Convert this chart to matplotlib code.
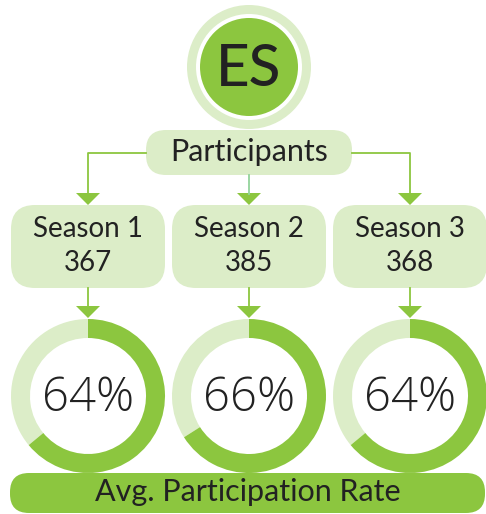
import matplotlib
matplotlib.use("Agg")
import matplotlib.pyplot as plt
from matplotlib.patches import FancyBboxPatch, Wedge, Circle, Polygon

# data
seasons = ["Season 1", "Season 2", "Season 3"]
participants = [367, 385, 368]
avg_rate = [64, 66, 64]
badge = "ES"

DARK = "#8cc63f"
LIGHT = "#dcedc8"
TXT = "#222222"
FONT = ["Lato", "DejaVu Sans"]

W, H = 486, 514
fig = plt.figure(figsize=(W / 100, H / 100), dpi=100)
ax = fig.add_axes([0, 0, 1, 1])
ax.set_xlim(0, W)
ax.set_ylim(0, H)
ax.axis("off")


def Y(v):
    # image rows -> y-up axes
    return H - v


def rbox(x0, y0, x1, y1, r, color):
    p = FancyBboxPatch((x0 + r, Y(y1) + r), x1 - x0 - 2 * r, y1 - y0 - 2 * r,
                       boxstyle="round,pad=%d" % r, fc=color, ec="none")
    ax.add_patch(p)


def arrow(x, y_top):
    ax.add_patch(Polygon([(x - 12, Y(y_top)), (x + 12, Y(y_top)), (x, Y(y_top + 12))],
                         closed=True, fc=DARK, ec="none"))


# badge
cx, cy = 249, 67
ax.add_patch(Circle((cx, Y(cy)), 62, fc=LIGHT, ec="none"))
ax.add_patch(Circle((cx, Y(cy)), 53, fc="white", ec="none"))
ax.add_patch(Circle((cx, Y(cy)), 49, fc=DARK, ec="none"))
ax.text(cx, Y(cy + 2), badge, ha="center", va="center", fontsize=42,
        fontweight="medium", color=TXT, family=FONT)

# participants box
rbox(146, 130, 352, 175, 20, LIGHT)
ax.text(249, Y(152), "Participants", ha="center", va="center", fontsize=22,
        color=TXT, family=FONT)

centers = [88, 249, 410]

# connectors
ax.plot([146, centers[0], centers[0]], [Y(153), Y(153), Y(194)], color=DARK, lw=1.3)
ax.plot([352, centers[2], centers[2]], [Y(153), Y(153), Y(194)], color=DARK, lw=1.3)
ax.plot([centers[1], centers[1]], [Y(175), Y(194)], color="#93d39b", lw=1.3)

for i, (s, n, p) in enumerate(zip(seasons, participants, avg_rate)):
    x = centers[i]
    arrow(x, 193)
    rbox(x - 77, 205, x + 77, 288, 24, LIGHT)
    ax.text(x, Y(229), s, ha="center", va="center", fontsize=20, color=TXT, family=FONT)
    ax.text(x, Y(263), str(n), ha="center", va="center", fontsize=20, color=TXT, family=FONT)

    ax.plot([x, x], [Y(288), Y(307)], color=DARK, lw=1.3)
    arrow(x, 306)

    dy = 396
    ang = 360 * p / 100
    ax.add_patch(Wedge((x, Y(dy)), 77, 90, 90 + 360 - ang, width=19, fc=LIGHT, ec="none"))
    ax.add_patch(Wedge((x, Y(dy)), 77, 90 - ang, 90, width=19, fc=DARK, ec="none"))
    ax.text(x, Y(399), "%d%%" % p, ha="center", va="center", fontsize=34,
            fontweight=300, color=TXT, family=["Open Sans", "DejaVu Sans"])

# bottom bar
rbox(10, 473, 485, 513, 19, DARK)
ax.text(248, Y(492), "Avg. Participation Rate", ha="center", va="center",
        fontsize=22, color=TXT, family=FONT)

fig.savefig("out.png", dpi=100)
